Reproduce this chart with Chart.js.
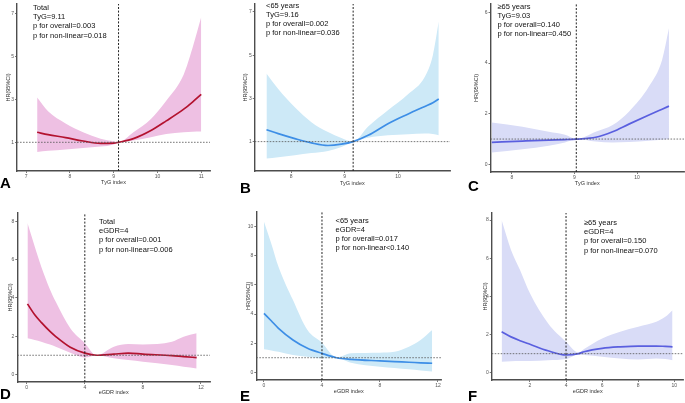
<!DOCTYPE html>
<html>
<head>
<meta charset="utf-8">
<script src="https://cdn.jsdelivr.net/npm/chart.js@4.4.1/dist/chart.umd.min.js"></script>
<style>
  body { margin: 0; background: #fff; width: 685px; height: 403px; position: relative; overflow: hidden; font-family: "Liberation Sans", Arial, sans-serif; }
  canvas { position: absolute; }
  .note { position: absolute; font-size: 7.5px; line-height: 9.2px; color: #111; white-space: pre; }
  .tag { position: absolute; font-size: 15px; font-weight: bold; color: #000; line-height: 15px; }
</style>
</head>
<body>
<script>
// --- data ---
const aX = [7.25, 7.5, 7.9, 8.3, 8.7, 9.0, 9.11, 9.45, 9.85, 10.2, 10.6, 10.8, 11.0];
const aHR = [1.47, 1.36, 1.22, 1.06, 0.95, 0.96, 1.0, 1.17, 1.55, 2.0, 2.55, 2.88, 3.24];
const aUpper = [3.09, 2.45, 1.88, 1.47, 1.17, 1.05, 1.0, 1.47, 2.09, 2.94, 4.17, 5.4, 6.85];
const aLower = [0.55, 0.6, 0.66, 0.74, 0.8, 0.9, 1.0, 1.09, 1.24, 1.39, 1.47, 1.49, 1.5];

const bX = [7.54, 7.76, 8.07, 8.38, 8.69, 8.94, 9.16, 9.44, 9.81, 10.19, 10.5, 10.65, 10.76];
const bHR = [1.55, 1.37, 1.14, 0.94, 0.82, 0.88, 1.0, 1.29, 1.83, 2.28, 2.63, 2.8, 2.97];
const bUpper = [4.15, 3.43, 2.59, 1.9, 1.44, 1.17, 1.0, 1.7, 2.45, 3.2, 4.0, 5.0, 6.56];
const bLower = [0.22, 0.28, 0.37, 0.47, 0.57, 0.75, 1.0, 1.18, 1.29, 1.34, 1.37, 1.35, 1.3];

const cX = [7.68, 8.17, 8.59, 8.85, 9.03, 9.34, 9.61, 9.87, 10.19, 10.4, 10.51];
const cHR = [0.87, 0.92, 0.96, 0.98, 1.0, 1.07, 1.29, 1.59, 1.95, 2.18, 2.3];
const cUpper = [1.65, 1.49, 1.29, 1.17, 1.0, 1.29, 1.55, 2.08, 3.07, 4.12, 5.37];
const cLower = [0.47, 0.6, 0.74, 0.86, 1.0, 0.9, 0.86, 0.88, 0.93, 0.97, 1.0];

const dX = [0.05, 0.55, 1.0, 1.6, 2.0, 3.0, 4.0, 4.8, 6.0, 7.0, 8.0, 10.0, 10.8, 11.7];
const dHR = [3.69, 3.12, 2.72, 2.25, 1.98, 1.42, 1.11, 1.0, 1.06, 1.11, 1.06, 0.98, 0.93, 0.88];
const dUpper = [7.92, 6.69, 5.64, 4.45, 3.8, 2.41, 1.63, 1.0, 1.45, 1.59, 1.57, 1.71, 1.97, 2.15];
const dLower = [1.89, 1.8, 1.71, 1.56, 1.45, 1.13, 0.88, 1.0, 0.84, 0.75, 0.66, 0.49, 0.4, 0.31];

const eX = [0, 0.5, 1, 2, 3, 4, 5, 6, 8, 9, 10, 10.8, 11.6];
const eHR = [4.05, 3.54, 3.02, 2.22, 1.65, 1.3, 1.0, 0.89, 0.78, 0.73, 0.69, 0.65, 0.62];
const eUpper = [10.34, 8.85, 7.25, 4.96, 2.9, 2.03, 1.02, 1.3, 1.35, 1.41, 1.76, 2.22, 2.9];
const eLower = [1.58, 1.5, 1.41, 1.19, 1.07, 0.96, 0.98, 0.66, 0.38, 0.29, 0.2, 0.12, 0.05];

const fX = [0.43, 0.95, 1.45, 2, 3, 4, 4.7, 5, 6, 7, 8, 9, 9.5, 9.9];
const fHR = [2.15, 1.88, 1.68, 1.49, 1.15, 0.93, 1.0, 1.1, 1.28, 1.36, 1.4, 1.4, 1.38, 1.36];
const fUpper = [8.0, 6.43, 5.38, 4.16, 2.59, 1.62, 1.05, 1.24, 1.8, 2.15, 2.41, 2.67, 2.93, 3.28];
const fLower = [0.58, 0.6, 0.61, 0.62, 0.66, 0.72, 0.96, 0.93, 0.84, 0.75, 0.7, 0.75, 0.72, 0.66];

// cut-offs (vertical dashed line) and reference HR
const cutoffs = [9.11, 9.16, 9.03, 4, 4, 4];
const refHR = 1;

// tick labels
const tygTicksA = [7, 8, 9, 10, 11];
const tygTicksBC = [8, 9, 10];
const egdrTicksDE = [0, 4, 8, 12];
const egdrTicksF = [2, 4, 6, 8, 10];
const hrTicksAB = [1, 3, 5, 7];
const hrTicksC = [0, 2, 4, 6];
const hrTicksDF = [0, 2, 4, 6, 8];
const hrTicksE = [0, 2, 4, 6, 8, 10];

const notes = [
  ['Total', 'TyG=9.11', 'p for overall=0.003', 'p for non-linear=0.018'],
  ['<65 years', 'TyG=9.16', 'p for overall=0.002', 'p for non-linear=0.036'],
  ['\u226565 years', 'TyG=9.03', 'p for overall=0.140', 'p for non-linear=0.450'],
  ['Total', 'eGDR=4', 'p for overall=0.001', 'p for non-linear=0.006'],
  ['<65 years', 'eGDR=4', 'p for overall=0.017', 'p for non-linear<0.140'],
  ['\u226565 years', 'eGDR=4', 'p for overall=0.150', 'p for non-linear=0.070']
];

const pink = { fill: '#eec0e3', line: '#b3122f' };
const blue = { fill: '#cde9f7', line: '#3d8ee6' };
const violet = { fill: '#d9dcf7', line: '#5a5fdf' };

const panels = [
  { tag: 'A', box: [0, 0, 228, 200], area: [17, 2, 210, 171], xr: [6.79, 11.2], yr: [-0.34, 7.46],
    x: aX, hr: aHR, up: aUpper, lo: aLower, xt: tygTicksA, yt: hrTicksAB, xTitle: 'TyG index',
    col: pink, yTitleX: 8, xTitleY: 182, note: [33, 3], tagPos: [0, 175] },
  { tag: 'B', box: [228, 0, 228, 200], area: [254.7, 2, 450, 171], xr: [7.32, 10.97], yr: [-0.36, 7.37],
    x: bX, hr: bHR, up: bUpper, lo: bLower, xt: tygTicksBC, yt: hrTicksAB, xTitle: 'TyG index',
    col: blue, yTitleX: 245.3, xTitleY: 183, note: [266, 0.5], tagPos: [240, 180] },
  { tag: 'C', box: [456, 0, 229, 200], area: [490.5, 4, 684, 172], xr: [7.66, 10.75], yr: [-0.3, 6.33],
    x: cX, hr: cHR, up: cUpper, lo: cLower, xt: tygTicksBC, yt: hrTicksC, xTitle: 'TyG index',
    col: violet, yTitleX: 476, xTitleY: 183, note: [497.5, 1.5], tagPos: [468, 178] },
  { tag: 'D', box: [0, 200, 228, 203], area: [17.3, 213, 210, 382], xr: [-0.65, 12.62], yr: [-0.4, 8.45],
    x: dX, hr: dHR, up: dUpper, lo: dLower, xt: egdrTicksDE, yt: hrTicksDF, xTitle: 'eGDR index',
    col: pink, yTitleX: 10.7, xTitleY: 392.7, note: [99, 217], tagPos: [0, 386] },
  { tag: 'E', box: [228, 200, 228, 203], area: [256.3, 211.7, 441.3, 380], xr: [-0.53, 12.23], yr: [-0.53, 11.03],
    x: eX, hr: eHR, up: eUpper, lo: eLower, xt: egdrTicksDE, yt: hrTicksE, xTitle: 'eGDR index',
    col: blue, yTitleX: 248, xTitleY: 391.7, note: [335.5, 215.5], tagPos: [240, 388] },
  { tag: 'F', box: [456, 200, 229, 203], area: [491.7, 213, 683.7, 380], xr: [-0.12, 10.52], yr: [-0.38, 8.37],
    x: fX, hr: fHR, up: fUpper, lo: fLower, xt: egdrTicksF, yt: hrTicksDF, xTitle: 'eGDR index',
    col: violet, yTitleX: 485.3, xTitleY: 391.7, note: [584, 218], tagPos: [468, 388] }
];

const pts = (xs, ys) => xs.map((x, i) => ({ x: x, y: ys[i] }));

function scaleOpts(range, ticksArr, title, titlePad, fitSize, isY) {
  return {
    type: 'linear',
    min: range[0],
    max: range[1],
    afterBuildTicks: (scale) => { scale.ticks = ticksArr.map(v => ({ value: v })); },
    afterFit: (scale) => { if (isY) scale.width = fitSize; else scale.height = fitSize; },
    grid: { display: true, drawOnChartArea: false, drawTicks: true, tickLength: 2, color: '#555', lineWidth: 0.8 },
    border: { display: true, color: '#4d4d4d', width: 1.4 },
    ticks: { font: { size: 5, family: 'Liberation Sans' }, color: '#555', padding: 1, autoSkip: false, maxRotation: 0 },
    title: { display: true, text: title, font: { size: 5.5, family: 'Liberation Sans', lineHeight: 1 }, color: '#333', padding: titlePad }
  };
}

panels.forEach((p, k) => {
  const [L, T, W, H] = p.box;
  const [al, at, ar, ab] = p.area;
  const canvas = document.createElement('canvas');
  canvas.width = W; canvas.height = H;
  canvas.style.left = L + 'px'; canvas.style.top = T + 'px';
  canvas.style.width = W + 'px'; canvas.style.height = H + 'px';
  document.body.appendChild(canvas);

  const yW = al - L;
  const xH = T + H - ab;
  const cut = cutoffs[k];

  new Chart(canvas, {
    type: 'line',
    data: {
      datasets: [
        { data: pts([cut, cut], p.yr), borderColor: '#222', borderWidth: 1, borderDash: [2, 1.6], pointRadius: 0, tension: 0, fill: false },
        { data: pts(p.xr, [refHR, refHR]), borderColor: '#555', borderWidth: 0.8, borderDash: [1.6, 1.4], pointRadius: 0, tension: 0, fill: false },
        { data: pts(p.x, p.hr), borderColor: p.col.line, borderWidth: 1.7, pointRadius: 0, cubicInterpolationMode: 'monotone', fill: false },
        { data: pts(p.x, p.up), borderWidth: 0, borderColor: 'rgba(0,0,0,0)', backgroundColor: p.col.fill, pointRadius: 0, cubicInterpolationMode: 'monotone', fill: '+1' },
        { data: pts(p.x, p.lo), borderWidth: 0, borderColor: 'rgba(0,0,0,0)', pointRadius: 0, cubicInterpolationMode: 'monotone', fill: false }
      ]
    },
    options: {
      responsive: false,
      animation: false,
      devicePixelRatio: 1,
      layout: { padding: { left: 0, top: at - T, right: L + W - ar, bottom: 0 } },
      plugins: { legend: { display: false }, tooltip: { enabled: false } },
      scales: {
        x: scaleOpts(p.xr, p.xt, p.xTitle, { top: 0, bottom: T + H - p.xTitleY - 2.75 }, xH, false),
        y: scaleOpts(p.yr, p.yt, 'HR(95%CI)', { top: p.yTitleX - L - 2.75, bottom: 0 }, yW, true)
      }
    }
  });

  const note = document.createElement('div');
  note.className = 'note';
  note.style.left = p.note[0] + 'px';
  note.style.top = p.note[1] + 'px';
  note.textContent = notes[k].join('\n');
  document.body.appendChild(note);

  const tag = document.createElement('div');
  tag.className = 'tag';
  tag.style.left = p.tagPos[0] + 'px';
  tag.style.top = p.tagPos[1] + 'px';
  tag.textContent = p.tag;
  document.body.appendChild(tag);
});
</script>
</body>
</html>
